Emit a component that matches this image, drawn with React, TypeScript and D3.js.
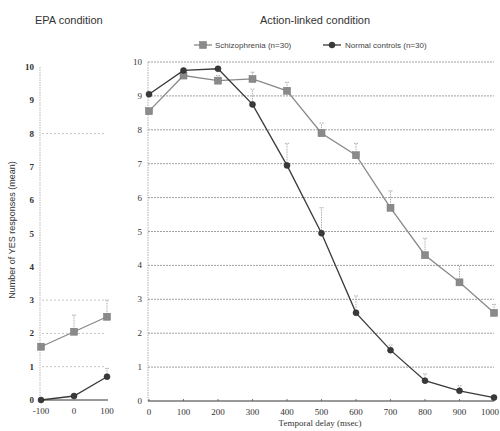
import React from 'react'
import * as d3 from 'd3'

// EPA condition (left panel)
const epaDelays = [-100, 0, 100]
const epaSchiz = [1.6, 2.05, 2.5]
const epaSchizErr = [0.1, 0.5, 0.5]
const epaNormal = [0, 0.12, 0.7]
const epaNormalErr = [0, 0.05, 0.25]
const epaGrid = [1, 2, 3, 8]

// Action-linked condition (right panel)
const delays = [0, 100, 200, 300, 400, 500, 600, 700, 800, 900, 1000]
const schiz = [8.55, 9.6, 9.45, 9.5, 9.15, 7.9, 7.25, 5.7, 4.3, 3.5, 2.6]
const schizErr = [0.1, 0.1, 0.15, 0.2, 0.25, 0.3, 0.35, 0.5, 0.5, 0.5, 0.25]
const normal = [9.05, 9.75, 9.8, 8.75, 6.95, 4.95, 2.6, 1.5, 0.6, 0.3, 0.1]
const normalErr = [0.1, 0.1, 0.1, 0.45, 0.65, 0.75, 0.5, 0.15, 0.2, 0.15, 0.1]

const yTicks = d3.range(0, 11)
const tickFont = '"Liberation Serif", serif'
const sansFont = '"Liberation Sans", Arial, sans-serif'
const schizColor = '#8a8a8a'
const normalColor = '#3a3a3a'

type Series = { vals: number[]; errs: number[]; color: string; marker: 'square' | 'circle' }

function Marker({ x, y, kind, color }: { x: number; y: number; kind: string; color: string }) {
  return kind === 'square' ? (
    <rect x={x - 3.5} y={y - 3.5} width={7} height={7} fill={color} stroke="#777" strokeWidth={0.5} />
  ) : (
    <circle cx={x} cy={y} r={3} fill={color} stroke="#222" strokeWidth={0.5} />
  )
}

function Lines({ xs, series, x, y }: { xs: number[]; series: Series[]; x: d3.ScaleLinear<number, number>; y: d3.ScaleLinear<number, number> }) {
  return (
    <g>
      {series.map((s, si) => {
        const line = d3
          .line<number>()
          .x((_, i) => x(xs[i]))
          .y((d) => y(d))
        return (
          <g key={si}>
            {s.vals.map((v, i) =>
              s.errs[i] > 0.12 ? (
                <g key={'e' + i} stroke="#999" strokeWidth={0.8} strokeDasharray="1.5,1">
                  <line x1={x(xs[i])} x2={x(xs[i])} y1={y(v)} y2={y(v + s.errs[i])} />
                  <line x1={x(xs[i]) - 2} x2={x(xs[i]) + 2} y1={y(v + s.errs[i])} y2={y(v + s.errs[i])} />
                </g>
              ) : null
            )}
            <path d={line(s.vals) ?? ''} fill="none" stroke={s.color} strokeWidth={1.3} />
            {s.vals.map((v, i) => (
              <Marker key={i} x={x(xs[i])} y={y(v)} kind={s.marker} color={s.color} />
            ))}
          </g>
        )
      })}
    </g>
  )
}

export default function App() {
  const xL = d3.scaleLinear().domain([-100, 100]).range([41, 107])
  const yL = d3.scaleLinear().domain([0, 10]).range([400, 67])
  const xR = d3.scaleLinear().domain([0, 1000]).range([149, 494])
  const yR = d3.scaleLinear().domain([0, 10]).range([401, 62])

  const leftSeries: Series[] = [
    { vals: epaSchiz, errs: epaSchizErr, color: schizColor, marker: 'square' },
    { vals: epaNormal, errs: epaNormalErr, color: normalColor, marker: 'circle' },
  ]
  const rightSeries: Series[] = [
    { vals: schiz, errs: schizErr, color: schizColor, marker: 'square' },
    { vals: normal, errs: normalErr, color: normalColor, marker: 'circle' },
  ]

  return (
    <div style={{ position: 'absolute', left: 0, top: 0 }}>
      <svg width={500} height={431} style={{ display: 'block', background: '#fff' }}>
        {/* titles */}
        <text x={35} y={24} fontFamily={sansFont} fontSize={11} fill="#333">EPA condition</text>
        <text x={260} y={24} fontFamily={sansFont} fontSize={11} fill="#333">Action-linked condition</text>

        {/* legend */}
        <g fontFamily={sansFont} fontSize={8} fill="#444">
          <line x1={194} x2={212} y1={45} y2={45} stroke={schizColor} strokeWidth={1.3} />
          <Marker x={203} y={45} kind="square" color={schizColor} />
          <text x={215} y={48}>Schizophrenia (n=30)</text>
          <line x1={323} x2={341} y1={45} y2={45} stroke={normalColor} strokeWidth={1.3} />
          <Marker x={332} y={45} kind="circle" color={normalColor} />
          <text x={345} y={48}>Normal controls (n=30)</text>
        </g>

        {/* y axis label */}
        <text
          transform="translate(15,230) rotate(-90)"
          textAnchor="middle"
          fontFamily={sansFont}
          fontSize={9}
          fill="#333"
        >
          Number of YES responses (mean)
        </text>

        {/* left panel */}
        <g>
          {epaGrid.map((t) => (
            <line key={t} x1={42} x2={105} y1={yL(t)} y2={yL(t)} stroke="#aaa" strokeWidth={0.7} strokeDasharray="2,2" />
          ))}
          <line x1={40} x2={40} y1={yL(10)} y2={yL(0)} stroke="#aaa" strokeWidth={0.8} strokeDasharray="1.5,1" />
          <line x1={40} x2={108} y1={yL(0)} y2={yL(0)} stroke="#333" strokeWidth={1} />
          {yTicks.map((t) => (
            <text key={t} x={34} y={yL(t) + 3} textAnchor="end" fontFamily={tickFont} fontSize={9} fontWeight="bold" fill="#333">
              {t}
            </text>
          ))}
          {epaDelays.map((d) => (
            <text key={d} x={xL(d)} y={yL(0) + 14} textAnchor="middle" fontFamily={tickFont} fontSize={9} fill="#333">
              {d}
            </text>
          ))}
          <Lines xs={epaDelays} series={leftSeries} x={xL} y={yL} />
        </g>

        {/* right panel */}
        <g>
          {yTicks.filter((t) => t > 0).map((t) => (
            <line key={t} x1={148} x2={494} y1={yR(t)} y2={yR(t)} stroke="#888" strokeWidth={0.8} strokeDasharray="2,1" />
          ))}
          <line x1={148} x2={148} y1={yR(10)} y2={yR(0)} stroke="#999" strokeWidth={0.8} strokeDasharray="1.5,1" />
          <line x1={148} x2={494} y1={yR(0)} y2={yR(0)} stroke="#333" strokeWidth={1} />
          {delays.map((d) => (
            <line key={'t' + d} x1={xR(d)} x2={xR(d)} y1={yR(0)} y2={yR(0) - 2} stroke="#555" strokeWidth={0.8} />
          ))}
          {yTicks.map((t) => (
            <text key={t} x={142} y={yR(t) + 3} textAnchor="end" fontFamily={tickFont} fontSize={9} fill="#333">
              {t}
            </text>
          ))}
          {delays.map((d) => (
            <text
              key={d}
              x={Math.min(xR(d), 499 - 9)}
              y={yR(0) + 14}
              textAnchor="middle"
              fontFamily={tickFont}
              fontSize={9}
              fill="#333"
            >
              {d}
            </text>
          ))}
          <Lines xs={delays} series={rightSeries} x={xR} y={yR} />
        </g>

        <text x={320} y={426} textAnchor="middle" fontFamily={tickFont} fontSize={9} fill="#333">
          Temporal delay (msec)
        </text>
      </svg>
    </div>
  )
}
